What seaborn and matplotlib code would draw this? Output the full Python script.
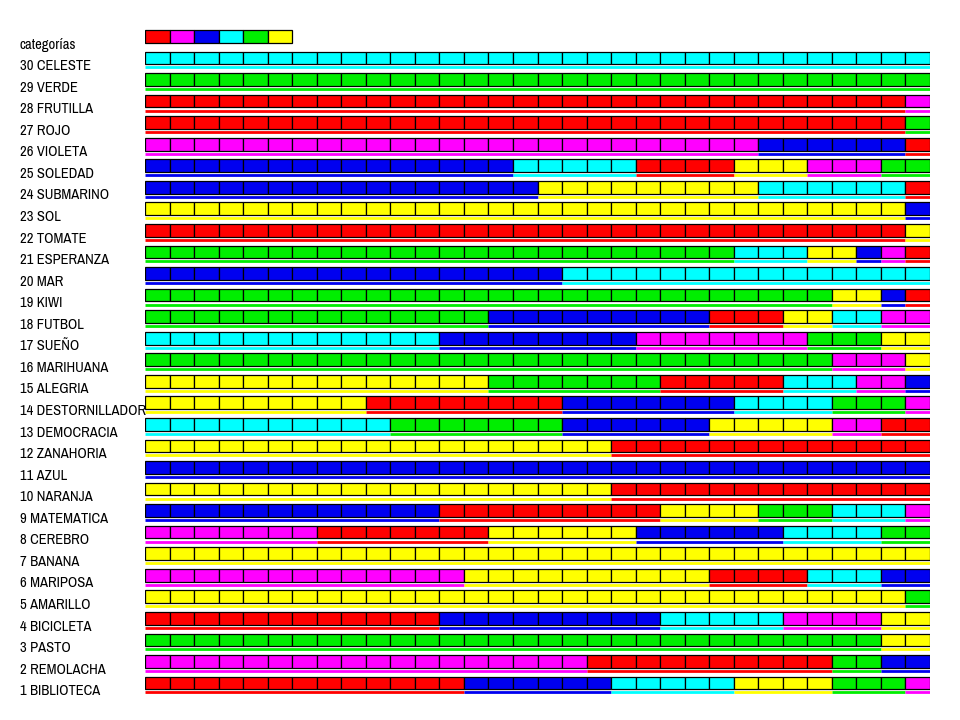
import matplotlib
matplotlib.use('Agg')
import matplotlib.pyplot as plt
import matplotlib.transforms as mtransforms
import seaborn as sns

# colour codes used in the rows
categories = ['R', 'M', 'B', 'C', 'G', 'Y']
category_colors = ['#ff0000', '#ff00ff', '#0000f0', '#00ffff', '#00ee00', '#ffff00']

# rows from top (30) to bottom (1)
row_labels = ['30 CELESTE', '29 VERDE', '28 FRUTILLA', '27 ROJO', '26 VIOLETA',
              '25 SOLEDAD', '24 SUBMARINO', '23 SOL', '22 TOMATE', '21 ESPERANZA',
              '20 MAR', '19 KIWI', '18 FUTBOL', '17 SUEÑO', '16 MARIHUANA',
              '15 ALEGRIA', '14 DESTORNILLADOR', '13 DEMOCRACIA', '12 ZANAHORIA',
              '11 AZUL', '10 NARANJA', '9 MATEMATICA', '8 CEREBRO', '7 BANANA',
              '6 MARIPOSA', '5 AMARILLO', '4 BICICLETA', '3 PASTO', '2 REMOLACHA',
              '1 BIBLIOTECA']

# colour of each run in a row
row_colors = ['C', 'G', 'RM', 'RG', 'MBR',
              'BCRYMG', 'BYCR', 'YB', 'RY', 'GCYBMR',
              'BC', 'GYBR', 'GBRYCM', 'CBMGY', 'GMY',
              'YGRCMB', 'YRBCGM', 'CGBYMR', 'YR',
              'B', 'YR', 'BRYGCM', 'MRYBCG', 'Y',
              'MYRCB', 'YG', 'RBCMY', 'GY', 'MRGB',
              'RBCYGM']

# number of cells in each run
row_counts = [[32], [32], [31, 1], [31, 1], [25, 6, 1],
              [15, 5, 4, 3, 3, 2], [16, 9, 6, 1], [31, 1], [31, 1], [24, 3, 2, 1, 1, 1],
              [17, 15], [28, 2, 1, 1], [14, 9, 3, 2, 2, 2], [12, 8, 7, 3, 2], [28, 3, 1],
              [14, 7, 5, 3, 2, 1], [9, 8, 7, 4, 3, 1], [10, 7, 6, 5, 2, 2], [19, 13],
              [32], [19, 13], [12, 9, 4, 3, 3, 1], [7, 7, 6, 6, 4, 2], [32],
              [13, 10, 4, 3, 2], [31, 1], [12, 9, 5, 4, 2], [30, 2], [18, 10, 2, 2],
              [13, 6, 5, 4, 3, 1]]

sns.set_theme(style='white')
plt.rcParams['font.family'] = ['Archivo Narrow', 'Roboto Condensed', 'Liberation Sans', 'DejaVu Sans']
palette = dict(zip(categories, sns.color_palette(category_colors)))

fig = plt.figure(figsize=(9.6, 7.2), dpi=100)
ax = fig.add_axes([145 / 960, 0, 785 / 960, 1])
ax.set_xlim(0, 32)
ax.set_ylim(-0.717, 32.69)
ax.axis('off')
label_tf = mtransforms.blended_transform_factory(fig.transFigure, ax.transData)

bar_h = 0.59
n_rows = len(row_labels)
font_size = 10.5

# legend row with the categories
top = n_rows + 1
ax.barh([top] * len(categories), 1, left=range(len(categories)), height=bar_h,
        color=[palette[c] for c in categories], edgecolor='black', linewidth=0.9)
ax.text(20 / 960, top - 0.38, 'categorías', transform=label_tf, ha='left', va='center',
        fontsize=font_size, color='black')

for i, (label, cols, counts) in enumerate(zip(row_labels, row_colors, row_counts)):
    r = n_rows - i
    left = 0
    for c, n in zip(cols, counts):
        ax.barh([r] * n, 1, left=range(left, left + n), height=bar_h,
                color=palette[c], edgecolor='black', linewidth=0.9)
        ax.hlines(r - 0.44, left, left + n, color=palette[c], linewidth=2)
        left += n
    ax.text(20 / 960, r - 0.38, label, transform=label_tf, ha='left', va='center',
            fontsize=font_size, color='black')

fig.savefig('out.png', dpi=100)
